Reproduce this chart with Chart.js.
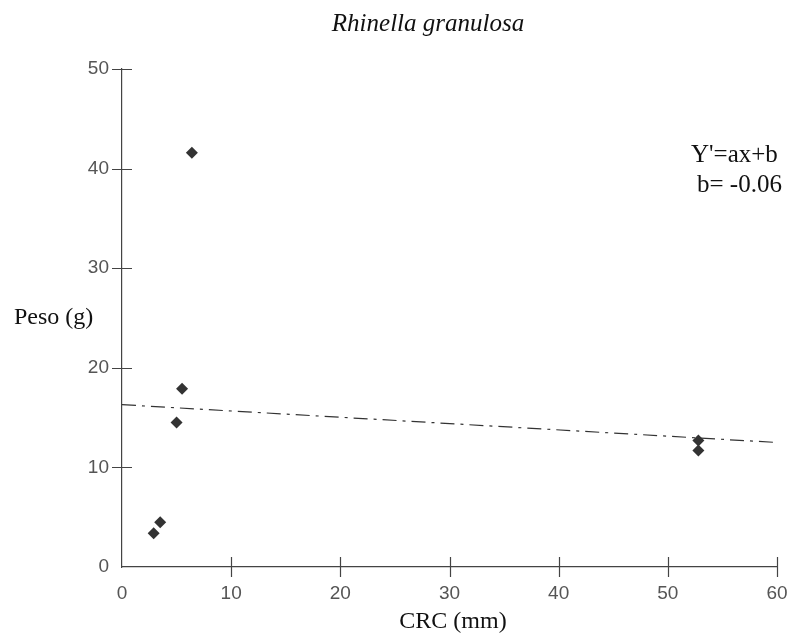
<!DOCTYPE html>
<html>
<head>
<meta charset="utf-8">
<script src="https://cdn.jsdelivr.net/npm/chart.js@4"></script>
<style>
  html, body { margin: 0; padding: 0; background: #fff; }
  #wrap { width: 793px; height: 634px; }
</style>
</head>
<body>
<div id="wrap"><canvas id="chart" width="793" height="634"></canvas></div>
<script>
// Rhinella granulosa: peso vs CRC
const crc = [2.9, 3.5, 5.0, 5.5, 6.4, 52.8, 52.8];
const peso = [3.4, 4.5, 14.5, 17.9, 41.6, 12.7, 11.7];
const regX = [0, 60];
const regY = [16.3, 12.5];
const xTicks = [0, 10, 20, 30, 40, 50, 60];
const yTicks = [0, 10, 20, 30, 40, 50];

const AXIS = '#444';

// texts + ticks crossing the axes (none at the origin)
const decor = {
  id: 'decor',
  afterDraw(chart) {
    const { ctx, scales: { x, y } } = chart;
    ctx.save();
    ctx.strokeStyle = AXIS;
    ctx.lineWidth = 1.2;
    ctx.beginPath();
    yTicks.filter(v => v !== 0).forEach(v => {
      const py = Math.round(y.getPixelForValue(v)) + 0.5;
      ctx.moveTo(x.left - 10, py);
      ctx.lineTo(x.left + 10, py);
    });
    xTicks.filter(v => v !== 0).forEach(v => {
      const px = Math.round(x.getPixelForValue(v)) + 0.5;
      ctx.moveTo(px, y.bottom - 10);
      ctx.lineTo(px, y.bottom + 10);
    });
    ctx.stroke();

    ctx.fillStyle = '#111';
    ctx.textBaseline = 'alphabetic';
    ctx.textAlign = 'center';
    ctx.font = 'italic 25px "Liberation Serif"';
    ctx.fillText('Rhinella granulosa', 428, 31);

    ctx.font = '24px "Liberation Serif"';
    ctx.textAlign = 'left';
    ctx.fillText('Peso (g)', 14, 324);
    ctx.textAlign = 'center';
    ctx.fillText('CRC (mm)', 453, 628);

    ctx.font = '25px "Liberation Serif"';
    ctx.textAlign = 'left';
    ctx.fillText("Y'=ax+b", 691, 162);
    ctx.fillText('b= -0.06', 697, 192);
    ctx.restore();
  }
};

new Chart(document.getElementById('chart'), {
  type: 'scatter',
  data: {
    datasets: [
      {
        label: 'Peso',
        data: crc.map((v, i) => ({ x: v, y: peso[i] })),
        pointStyle: 'rectRot',
        pointRadius: 6,
        backgroundColor: '#333',
        borderColor: '#333',
        borderWidth: 0
      },
      {
        label: 'Regresión',
        type: 'line',
        data: regX.map((v, i) => ({ x: v, y: regY[i] })),
        borderColor: '#333',
        borderWidth: 1.2,
        borderDash: [14, 6, 3, 6],
        pointRadius: 0,
        fill: false
      }
    ]
  },
  options: {
    responsive: false,
    animation: false,
    layout: { padding: { left: 0, top: 69, right: 16, bottom: 0 } },
    plugins: { legend: { display: false }, tooltip: { enabled: false }, title: { display: false } },
    scales: {
      x: {
        type: 'linear', min: 0, max: 60,
        afterBuildTicks: s => { s.ticks = xTicks.map(v => ({ value: v })); },
        afterFit: s => { s.height = 67; },
        grid: { color: 'transparent', drawOnChartArea: false, drawTicks: true, tickLength: 10 },
        border: { color: AXIS, width: 1.2 },
        ticks: { color: '#555', font: { family: '"Liberation Sans"', size: 19 }, padding: 5, maxRotation: 0 }
      },
      y: {
        type: 'linear', min: 0, max: 50,
        afterBuildTicks: s => { s.ticks = yTicks.map(v => ({ value: v })); },
        afterFit: s => { s.width = 122; },
        grid: { color: 'transparent', drawOnChartArea: false, drawTicks: true, tickLength: 10 },
        border: { color: AXIS, width: 1.2 },
        ticks: { color: '#555', font: { family: '"Liberation Sans"', size: 19 }, padding: 3 }
      }
    }
  },
  plugins: [decor]
});
</script>
</body>
</html>
